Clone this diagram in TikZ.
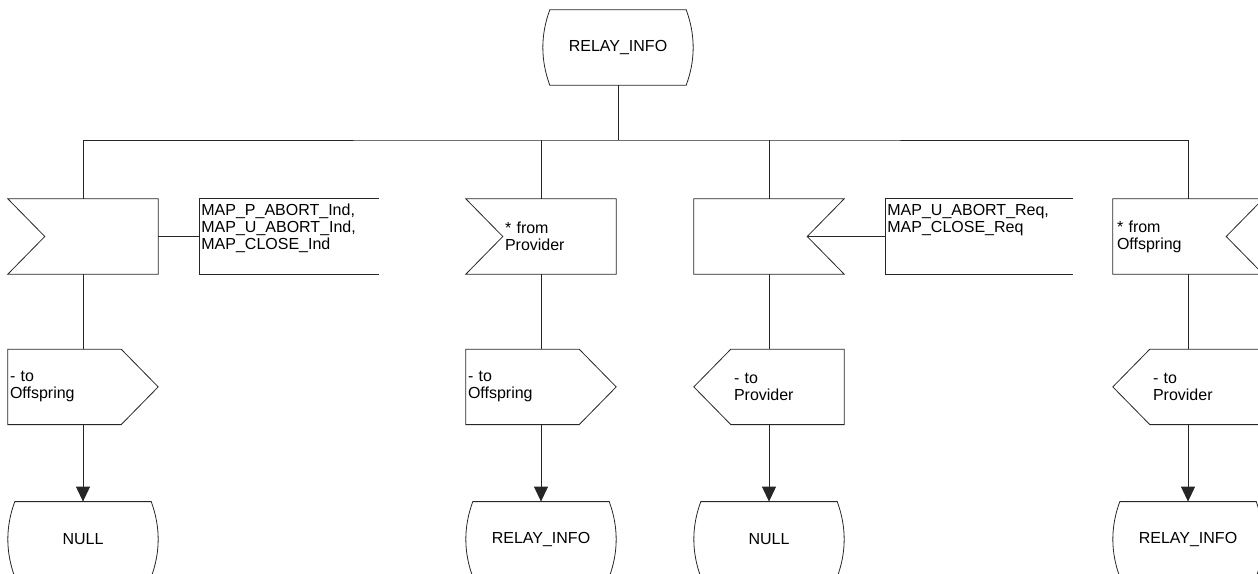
\documentclass[tikz,border=0pt]{standalone}
\usepackage{fontspec}
\setmainfont{Liberation Sans}
\usetikzlibrary{positioning,calc,arrows.meta}

% outlines drawn round the named nodes
\newcommand{\stateshape}[1]{\draw[outline] ([xshift=7pt]#1.north west) -- ([xshift=-7pt]#1.north east)
    .. controls ([xshift=2.3pt,yshift=12.5pt]#1.east) and ([xshift=2.3pt,yshift=-12.5pt]#1.east) .. ([xshift=-7pt]#1.south east)
    -- ([xshift=7pt]#1.south west)
    .. controls ([xshift=-2.3pt,yshift=-12.5pt]#1.west) and ([xshift=-2.3pt,yshift=12.5pt]#1.west) .. cycle;}
\newcommand{\recvleft}[1]{\draw[outline] (#1.north west) -- ([xshift=37pt]#1.west) -- (#1.south west) -- (#1.south east) -- (#1.north east) -- cycle;}
\newcommand{\recvright}[1]{\draw[outline] (#1.north east) -- ([xshift=-37pt]#1.east) -- (#1.south east) -- (#1.south west) -- (#1.north west) -- cycle;}
\newcommand{\sendright}[1]{\draw[outline] (#1.north west) -- ([xshift=-37pt]#1.north east) -- (#1.east) -- ([xshift=-37pt]#1.south east) -- (#1.south west) -- cycle;}
\newcommand{\sendleft}[1]{\draw[outline] (#1.north east) -- ([xshift=37pt]#1.north west) -- (#1.west) -- ([xshift=37pt]#1.south west) -- (#1.south east) -- cycle;}
\newcommand{\notebracket}[1]{\draw[outline] (#1.north east) -- (#1.north west) -- (#1.south west) -- (#1.south east);}

\begin{document}
\begin{tikzpicture}[
    x=1pt, y=-1pt,
    font=\fontsize{16pt}{17pt}\selectfont,
    box/.style={rectangle, inner sep=0pt, minimum width=150pt, minimum height=75pt, align=left},
    state/.style={box, align=center},
    recv/.style={box, text width=72pt},
    recvr/.style={box, text width=142pt},
    send/.style={box, text width=146pt},
    sendl/.style={box, text width=70pt},
    note/.style={rectangle, inner xsep=2pt, inner ysep=0pt, text height=16pt, text depth=59pt, align=left},
    outline/.style={draw=black!85, line width=0.8pt},
    line/.style={draw=black!85, line width=0.9pt},
    arrow/.style={line, -{Triangle[width=14pt,length=15pt]}}
]
    \useasboundingbox (0,0) rectangle (1258,573);

    \node[state] (top) at (618,47.5) {RELAY\_INFO};
    \coordinate (bus) at (618,140);

    % receiving signals
    \node[recv] (in1) at (83,236.5) {};
    \node[recv] (in2) at (541,236.5) {* from\\Provider};
    \node[recvr] (in3) at (769,236.5) {};
    \node[recvr] (in4) at (1188,236.5) {* from\\Offspring};

    % comments
    \node[note, text width=175pt, right=41pt of in1] (c1) {MAP\_P\_ABORT\_Ind,\\MAP\_U\_ABORT\_Ind,\\MAP\_CLOSE\_Ind};
    \node[note, text width=183pt, right=41pt of in3] (c3) {MAP\_U\_ABORT\_Req,\\MAP\_CLOSE\_Req};

    % sending signals
    \node[send, below=75pt of in1] (out1) {- to\\Offspring};
    \node[send, below=75pt of in2] (out2) {- to\\Offspring};
    \node[sendl, below=75pt of in3] (out3) {- to\\Provider};
    \node[sendl, below=75pt of in4] (out4) {- to\\Provider};

    % next states
    \node[state, below=77pt of out1] (st1) {NULL};
    \node[state, below=77pt of out2] (st2) {RELAY\_INFO};
    \node[state, below=77pt of out3] (st3) {NULL};
    \node[state, below=77pt of out4] (st4) {RELAY\_INFO};

    \stateshape{top}
    \recvleft{in1} \recvleft{in2} \recvright{in3} \recvright{in4}
    \notebracket{c1} \notebracket{c3}
    \sendright{out1} \sendright{out2} \sendleft{out3} \sendleft{out4}
    \stateshape{st1} \stateshape{st2} \stateshape{st3} \stateshape{st4}

    \draw[line] (top) -- (bus);
    \draw[line] (in1) |- (bus) -| (in4);
    \draw[line] (in2) -- (in2 |- bus);
    \draw[line] (in3) -- (in3 |- bus);

    \draw[line] (in1) -- (c1);
    \draw[line] ([xshift=-37pt]in3.east) -- (c3);

    \draw[line] (in1) -- (out1);
    \draw[line] (in2) -- (out2);
    \draw[line] (in3) -- (out3);
    \draw[line] (in4) -- (out4);
    \draw[arrow] (out1) -- (st1);
    \draw[arrow] (out2) -- (st2);
    \draw[arrow] (out3) -- (st3);
    \draw[arrow] (out4) -- (st4);
\end{tikzpicture}
\end{document}
